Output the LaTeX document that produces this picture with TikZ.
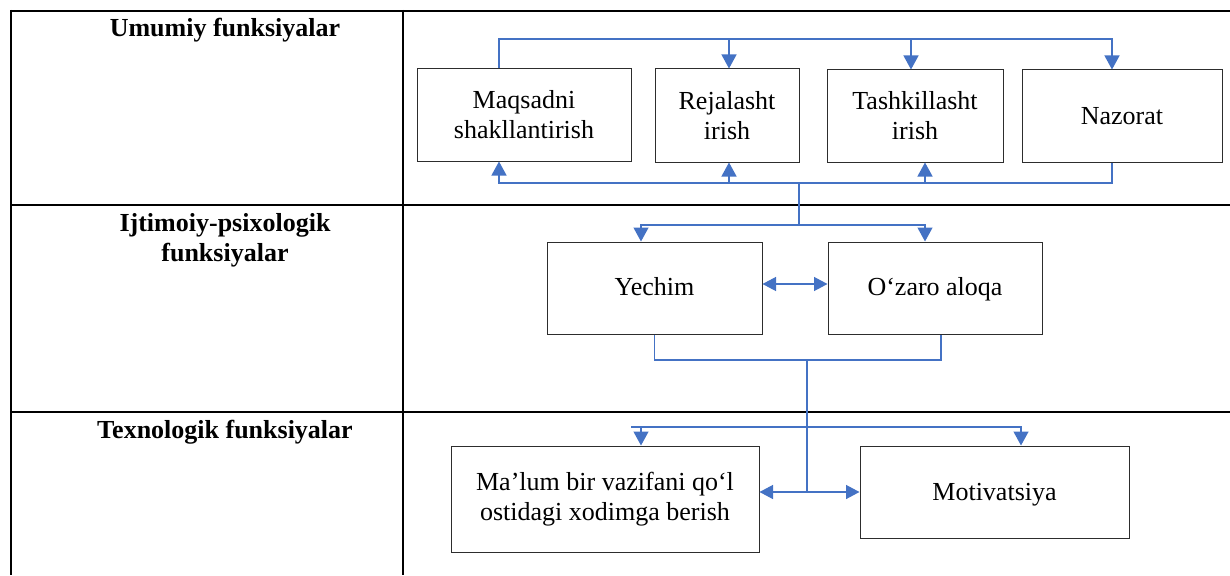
\documentclass[tikz,border=0pt]{standalone}
\usepackage{fontspec}
\setmainfont{Liberation Serif}
\usetikzlibrary{arrows.meta}
\definecolor{linkblue}{RGB}{68,114,196}
\definecolor{boxline}{RGB}{45,45,45}
\newcommand\diagboxfont{\fontsize{26}{30}\selectfont}
\newcommand\diaghead{\fontsize{26}{30}\selectfont\bfseries}
\begin{document}
\begin{tikzpicture}[x=1pt,y=-1pt,
  box/.style={draw=boxline, line width=1pt, fill=white, align=center,
    inner sep=0pt, font=\diagboxfont},
  oneline/.style={text height=17pt, text depth=0pt},
  head/.style={font=\diaghead, align=center, inner sep=0pt},
  rule/.style={line width=2pt, black},
  link/.style={draw=linkblue, line width=1.3pt},
  arr/.style={link, -{Triangle[length=14pt,width=15pt]}},
  darr/.style={link, {Triangle[length=13.5pt,width=14pt]}-{Triangle[length=13.5pt,width=14pt]}}]
\useasboundingbox (0,0) rectangle (1230,575);

% table grid
\draw[rule] (11,11) -- (1230,11);
\draw[rule] (11,205) -- (1230,205);
\draw[rule] (11,412) -- (1230,412);
\draw[rule] (11,10) -- (11,575);
\draw[rule] (403,10) -- (403,575);

% row headers
\node[head, anchor=base] (h1) at (225,37) {Umumiy funksiyalar};
\node[head] (h2) at (225,240) {Ijtimoiy-psixologik\\funksiyalar};
\node[head, anchor=base] (h3) at (225,438) {Texnologik funksiyalar};

% general functions
\node[box, minimum width=214pt, minimum height=92pt] (m1) at (524,115) {Maqsadni\\shakllantirish};
\node[box, minimum width=144pt, minimum height=93pt] (m2) at (727,115.5) {Rejalasht\\irish};
\node[box, minimum width=176pt, minimum height=92pt] (m3) at (915,116) {Tashkillasht\\irish};
\node[box, oneline, minimum width=200pt, minimum height=92pt] (m4) at (1122,116) {Nazorat};

% socio-psychological functions
\node[box, oneline, minimum width=215pt, minimum height=92pt, text depth=3pt] (s1) at (654.5,288) {Yechim};
\node[box, oneline, minimum width=214pt, minimum height=92pt, text depth=3pt] (s2) at (935,288) {O‘zaro aloqa};

% technological functions
\node[box, minimum width=308pt, minimum height=106pt] (t1) at (605,499) {Ma’lum bir vazifani qo‘l\\ostidagi xodimga berish};
\node[box, oneline, minimum width=269pt, minimum height=92pt] (t2) at (994.5,492) {Motivatsiya};

% junction points of the buses
\coordinate (tb) at (0,39);
\coordinate (j1) at (799,183);
\coordinate (j2) at (799,225);
\coordinate (yd) at (0,284);
\coordinate (j3) at (807,360);
\coordinate (j4) at (807,427);
\coordinate (j5) at (807,492);
\coordinate (b3) at (631,427);

% top bus
\draw[arr] ([xshift=-25pt]m1.north) -- ([xshift=-25pt]m1.north |- tb) -| ([xshift=-10pt]m4.north);
\draw[arr] ([xshift=2pt]m2.north |- tb) -- ([xshift=2pt]m2.north);
\draw[arr] ([xshift=-4pt]m3.north |- tb) -- ([xshift=-4pt]m3.north);

% bottom bus
\draw[arr] ([xshift=-10pt]m4.south) -- ([xshift=-10pt]m4.south |- j1) -| ([xshift=-25pt]m1.south);
\draw[arr] ([xshift=2pt]m2.south |- j1) -- ([xshift=2pt]m2.south);
\draw[arr] ([xshift=10pt]m3.south |- j1) -- ([xshift=10pt]m3.south);

% link to second row
\draw[link] (j1) -- (j2);
\draw[arr] (j2) -| ([xshift=-13.5pt]s1.north);
\draw[arr] (j2) -| ([xshift=-10pt]s2.north);
\draw[darr] (s1.east |- yd) -- (s2.west |- yd);
\draw[link] (s1.south) |- (j3) -| ([xshift=6pt]s2.south);

% link to third row
\draw[link] (j3) -- (j5);
\draw[link] (b3) -- (j4);
\draw[arr] ([xshift=36pt]t1.north |- j4) -- ([xshift=36pt]t1.north);
\draw[arr] (j4) -| ([xshift=26.5pt]t2.north);
\draw[darr] (t1.east |- j5) -- (t2.west |- j5);
\end{tikzpicture}
\end{document}
